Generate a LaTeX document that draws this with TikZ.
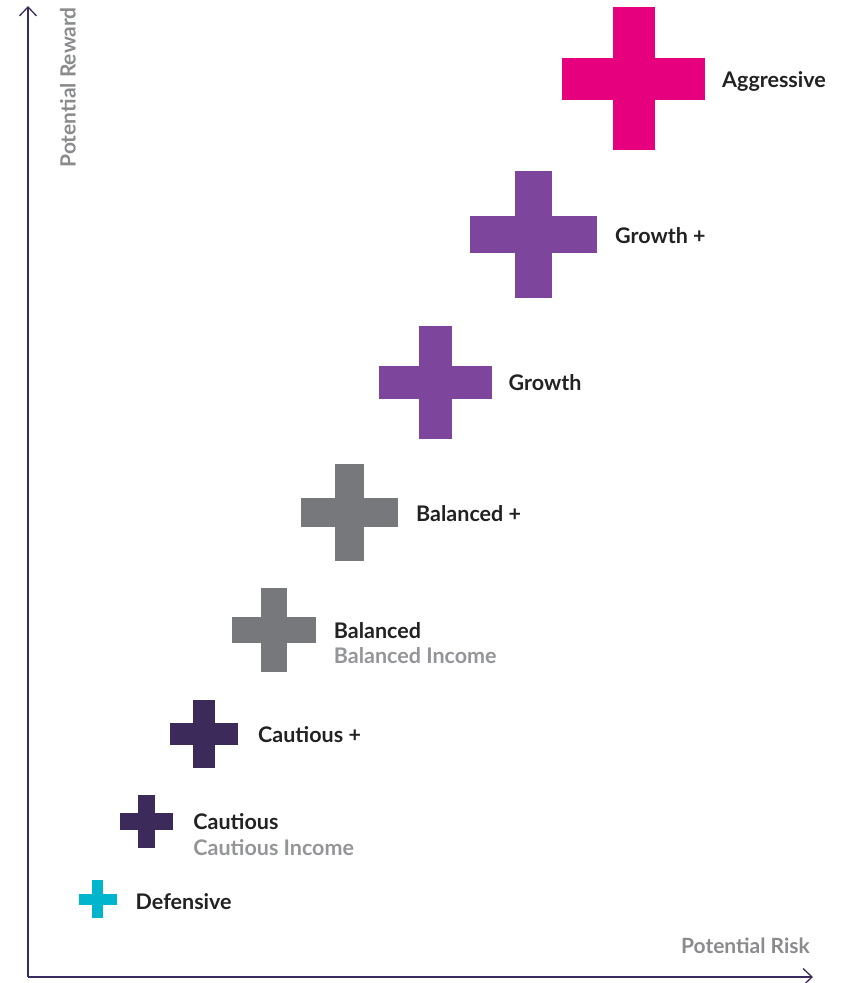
\documentclass[tikz,border=0pt]{standalone}
\usepackage{fontspec}
\setmainfont{Lato}
\usepackage{xcolor}
\usetikzlibrary{arrows.meta,positioning}

\definecolor{axisline}{HTML}{3B2A5E}
\definecolor{axistext}{HTML}{8A8B8D}
\definecolor{labeltext}{HTML}{222222}
\definecolor{subtext}{HTML}{939598}
\definecolor{aggrpink}{HTML}{E6007E}
\definecolor{growthpurple}{HTML}{7D469C}
\definecolor{balgrey}{HTML}{76787B}
\definecolor{cautpurple}{HTML}{3B2A5A}
\definecolor{defcyan}{HTML}{00B5CC}

% #1 name, #2 x, #3 y, #4 arm length, #5 bar width, #6 colour
% (#1 sits on the right arm, at the height of the label baseline)
\newcommand{\plusmark}[6]{%
  \fill[#6] ({#2-#4/2},{#3-#5/2}) rectangle ({#2+#4/2},{#3+#5/2});
  \fill[#6] ({#2-#5/2},{#3-#4/2}) rectangle ({#2+#5/2},{#3+#4/2});
  \coordinate (#1) at ({#2+#4/2},{#3+8.5});
}

\begin{document}
\begin{tikzpicture}[x=1pt,y=-1pt,
    axis/.style={line width=1.3pt, draw=axisline, -{Straight Barb[length=9pt,width=17pt,line width=1.3pt]}},
    axislabel/.style={font=\fontsize{21}{24}\selectfont\bfseries, text=axistext, inner sep=0pt},
    lbl/.style={font=\fontsize{21.5}{24}\selectfont\bfseries, text=labeltext, inner sep=0pt},
    sublbl/.style={font=\fontsize{21.5}{24}\selectfont\bfseries, text=subtext, inner sep=0pt}]
  \useasboundingbox (0,0) rectangle (843,983);

  % axes
  \coordinate (origin) at (28,977);
  \coordinate (ytop) at (28,6);
  \coordinate (xend) at (813,977);
  \draw[axis] (origin) -- (ytop);
  \draw[axis] (origin) -- (xend);
  \node[axislabel, rotate=90, anchor=east] (reward) at (68,7) {Potential Reward};
  \node[axislabel, anchor=east] (risk) at (810,946) {Potential Risk};

  % portfolios
  \plusmark{aggr}{633.5}{78.5}{143}{42}{aggrpink}
  \plusmark{growthp}{533.5}{234.5}{127}{37}{growthpurple}
  \plusmark{growth}{435}{382}{113}{33}{growthpurple}
  \plusmark{balp}{349.5}{512.5}{97}{29}{balgrey}
  \plusmark{bal}{273.7}{630}{84}{26}{balgrey}
  \plusmark{cautp}{204}{734}{68}{22}{cautpurple}
  \plusmark{caut}{146.7}{821}{53}{17}{cautpurple}
  \plusmark{def}{97.5}{899}{38}{11}{defcyan}

  \node[lbl, right=17pt of aggr, anchor=base west] (aggr-t) {Aggressive};
  \node[lbl, right=18pt of growthp, anchor=base west] (growthp-t) {Growth +};
  \node[lbl, right=17pt of growth, anchor=base west] (growth-t) {Growth};
  \node[lbl, right=18pt of balp, anchor=base west] (balp-t) {Balanced +};
  \node[lbl, right=18pt of bal, anchor=base west] (bal-t) {Balanced};
  \node[sublbl, below=25pt of bal-t.base west, anchor=base west] (bal-s) {Balanced Income};
  \node[lbl, right=20pt of cautp, anchor=base west] (cautp-t) {Cautious +};
  \node[lbl, right=20pt of caut, anchor=base west] (caut-t) {Cautious};
  \node[sublbl, below=26pt of caut-t.base west, anchor=base west] (caut-s) {Cautious Income};
  \node[lbl, right=19pt of def, anchor=base west, yshift=-2pt] (def-t) {Defensive};
\end{tikzpicture}
\end{document}
